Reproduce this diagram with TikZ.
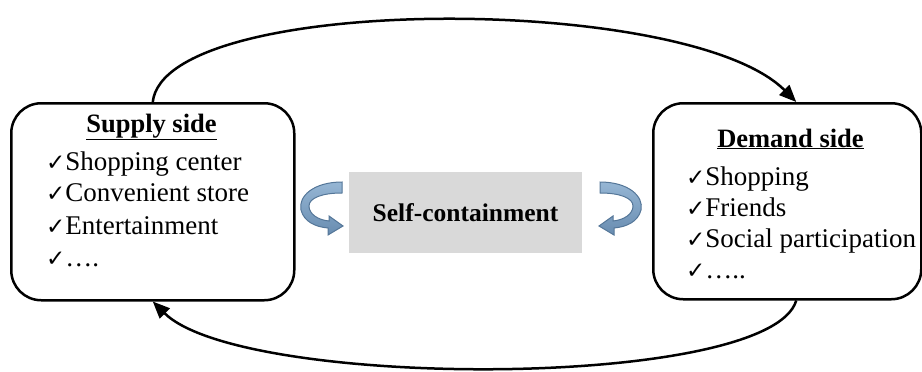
\documentclass[tikz,border=0pt]{standalone}
\usepackage{fontspec}
\setmainfont{Liberation Serif}
\newfontfamily\chk{DejaVu Sans}
\usetikzlibrary{arrows.meta}
\tikzset{
  sidebox/.style={draw=black, line width=2.5pt, rounded corners=30pt, anchor=north west, inner sep=0pt},
  selfbox/.style={fill={rgb,255:red,217;green,217;blue,217}, minimum width=233pt, minimum height=81pt, inner sep=0pt, font=\fontsize{25.5}{30}\selectfont\bfseries},
  titletext/.style={anchor=base, inner sep=0pt, font=\fontsize{26.5}{31}\selectfont\bfseries},
  itemtext/.style={anchor=base west, inner sep=0pt, font=\fontsize{27}{31}\selectfont},
  conn/.style={line width=2.5pt, -{Triangle[length=17pt,width=14pt]}},
  curlstyle/.style={top color={rgb,255:red,150;green,182;blue,212}, bottom color={rgb,255:red,104;green,140;blue,176}, draw={rgb,255:red,84;green,118;blue,152}, line width=1pt},
  curl/.pic={
    \shade[curlstyle] (342,182) .. controls (314,182) and (298,196) .. (301,210)
      .. controls (304,222) and (316,227) .. (328,228) -- (328,235) -- (343,226) -- (329,216) -- (329,221)
      .. controls (318,220) and (309,214) .. (309,206)
      .. controls (309,198) and (322,193) .. (342,193) -- cycle;
  }
}
\newcommand{\ck}{{\chk\fontsize{23}{24}\selectfont ✓}}
\begin{document}
\begin{tikzpicture}[x=1pt,y=-1pt]
\useasboundingbox (0,0) rectangle (922,372);
% boxes
\node[sidebox, minimum width=283pt, minimum height=197pt] (sup) at (10,102) {};
\node[sidebox, minimum width=268pt, minimum height=196pt] (dem) at (652,102) {};
\node[selfbox] (self) at (465.5,212.5) {Self-containment};
% supply text
\node[titletext] (supt) at (151.5,132) {\underline{Supply side}};
\node[itemtext] (s1) at (46,170) {\ck Shopping center};
\node[itemtext] (s2) at (46,201.5) {\ck Convenient store};
\node[itemtext] (s3) at (46,234) {\ck Entertainment};
\node[itemtext] (s4) at (46,266) {\ck ….};
% demand text
\node[titletext] (demt) at (790.5,147) {\underline{Demand side}};
\node[itemtext] (d1) at (686,185) {\ck Shopping};
\node[itemtext] (d2) at (686,216) {\ck Friends};
\node[itemtext] (d3) at (686,247) {\ck Social participation};
\node[itemtext] (d4) at (686,278) {\ck …..};
% connectors
\draw[conn] (sup.north) .. controls (165,-7) and (688,-7) .. ([xshift=9pt]dem.north);
\draw[conn] ([xshift=9pt]dem.south) .. controls (770,390) and (242,390) .. (sup.south);
% curl arrows
\pic at (0,0) {curl};
\pic[xscale=-1] at (942,0) {curl};
\end{tikzpicture}
\end{document}
